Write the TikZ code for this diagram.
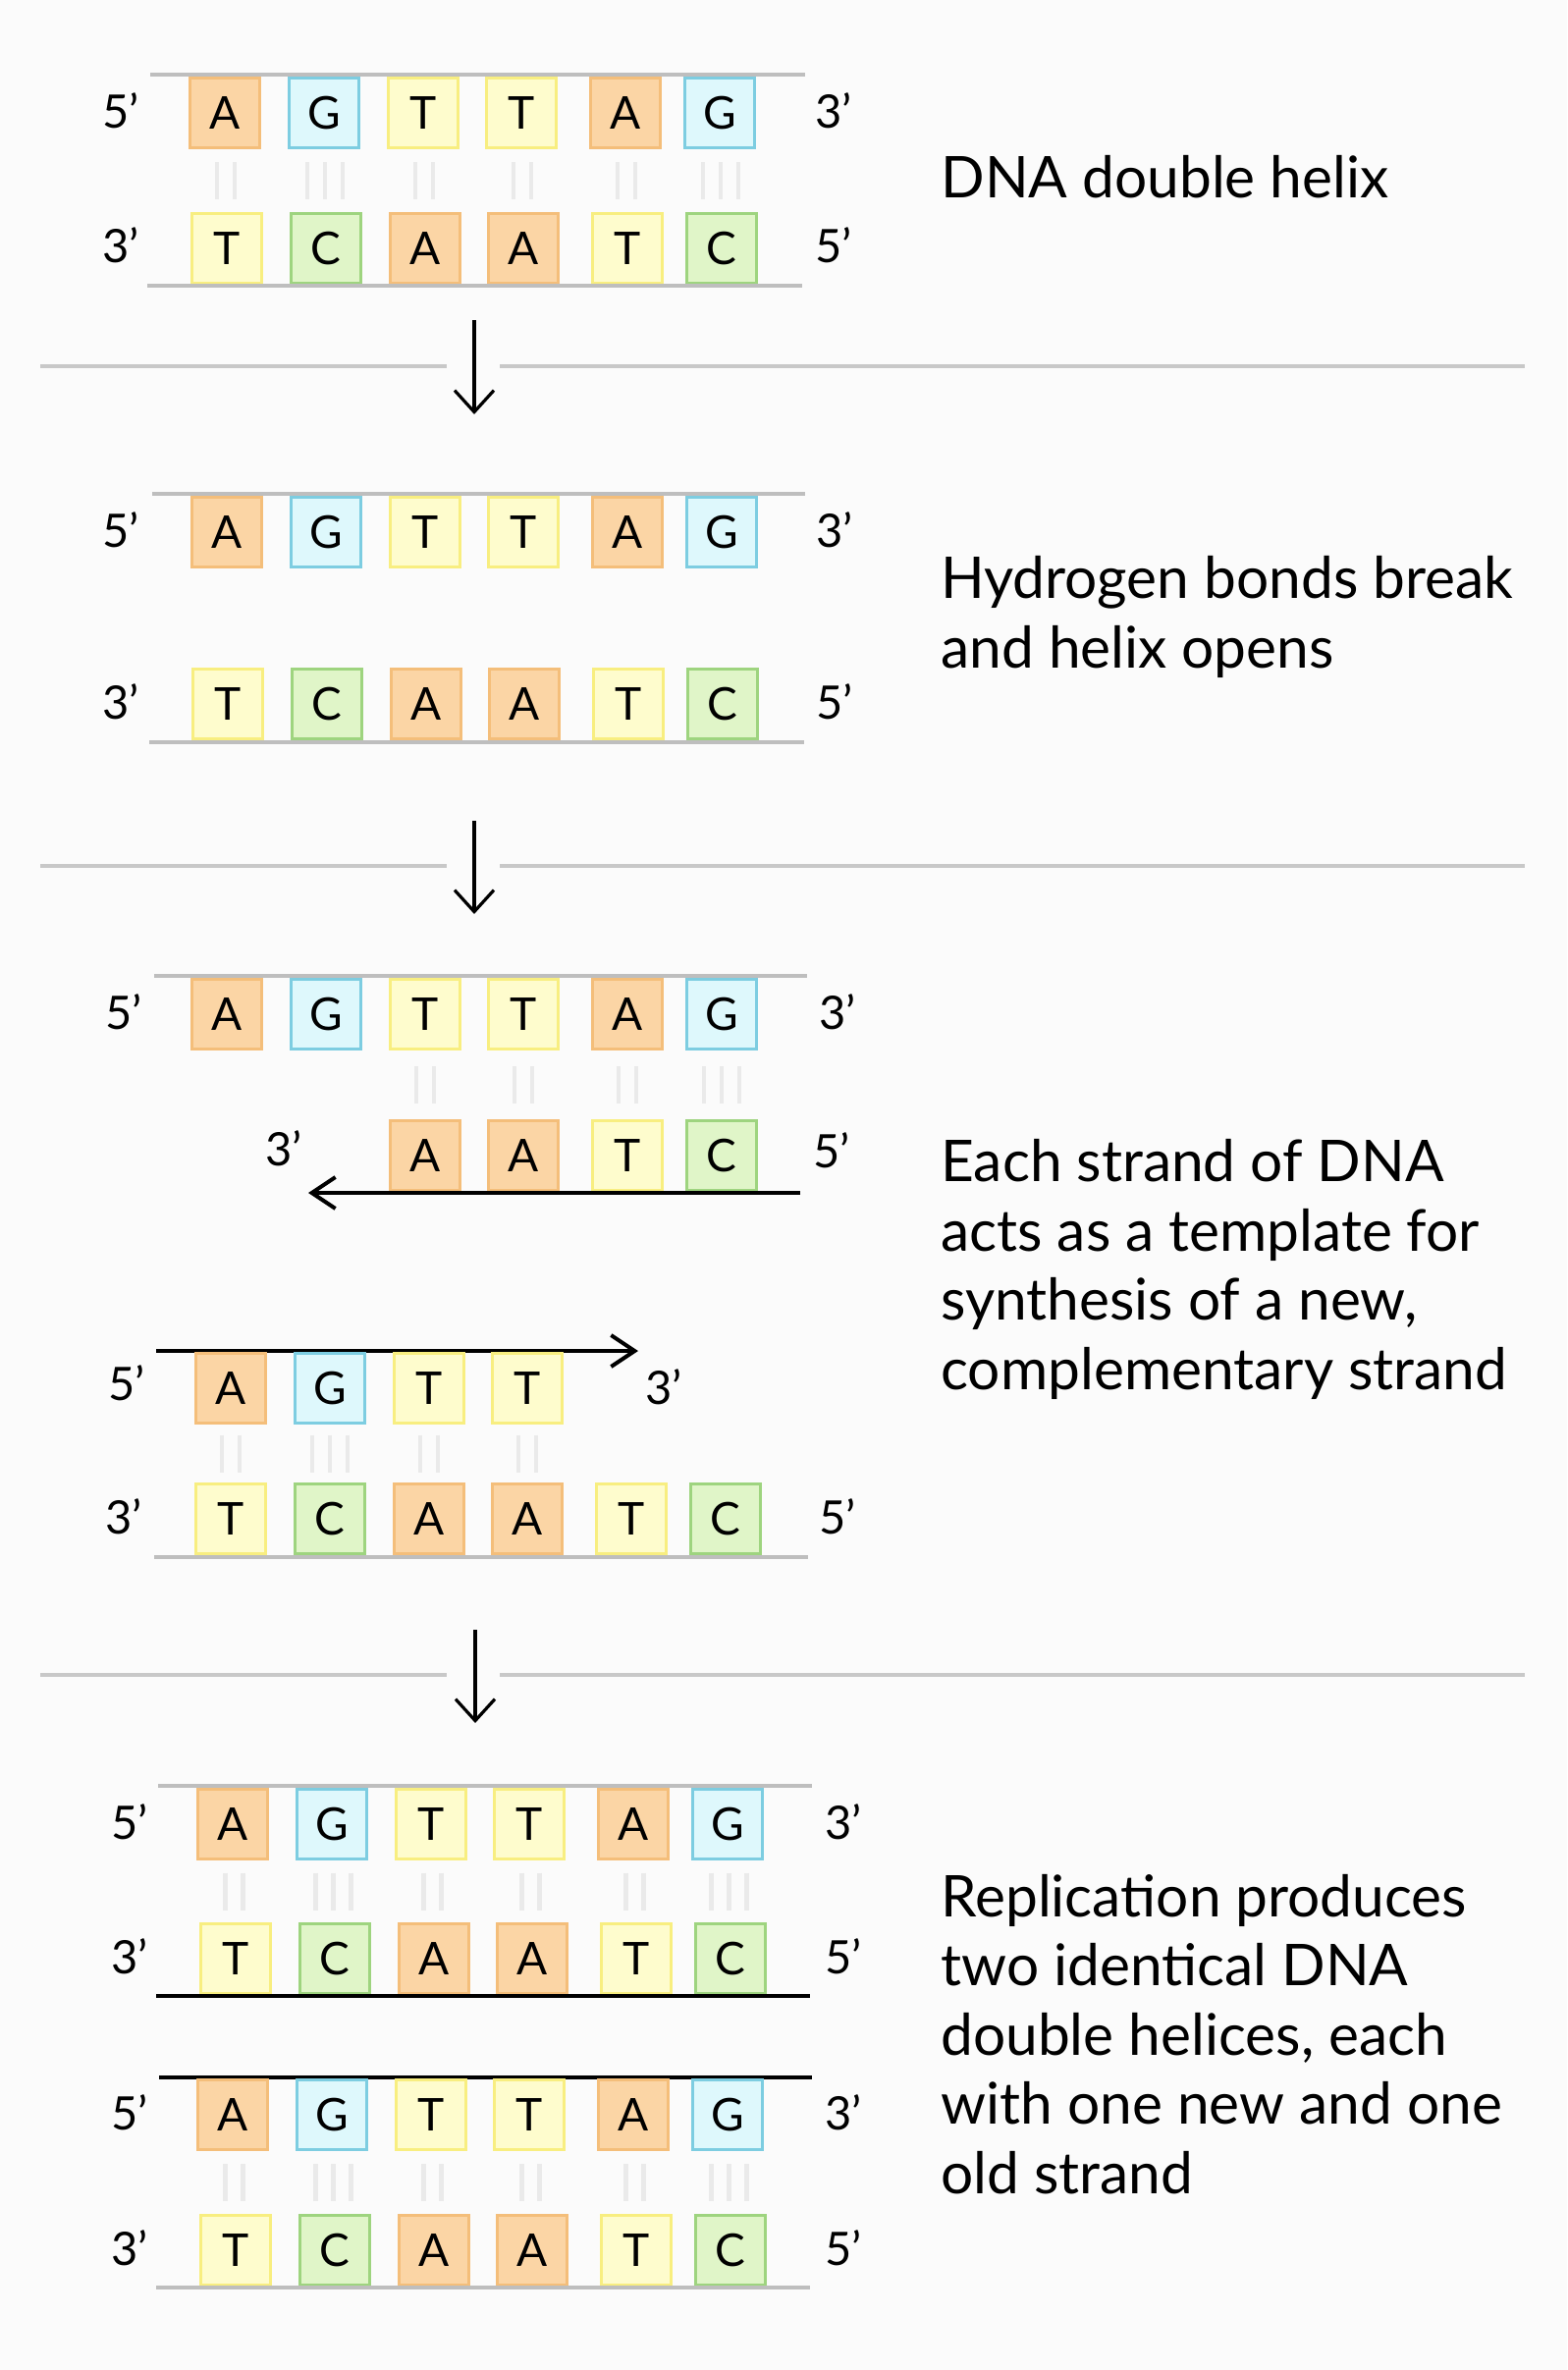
\documentclass[tikz,border=0pt]{standalone}
\usepackage{fontspec}
\setmainfont{Lato}
\usetikzlibrary{arrows.meta,calc}

\definecolor{bgcol}{RGB}{251,251,251}
\definecolor{adeFill}{RGB}{251,213,165}
\definecolor{adeLine}{RGB}{244,190,122}
\definecolor{guaFill}{RGB}{222,248,252}
\definecolor{guaLine}{RGB}{125,205,225}
\definecolor{thyFill}{RGB}{254,252,205}
\definecolor{thyLine}{RGB}{248,238,128}
\definecolor{cytFill}{RGB}{224,245,200}
\definecolor{cytLine}{RGB}{158,212,127}
\definecolor{strandgray}{RGB}{190,190,190}
\definecolor{dividergray}{RGB}{200,200,200}
\definecolor{bondgray}{RGB}{234,234,234}

\tikzset{
  base/.style={draw, line width=1.4pt, minimum size=35.6pt, inner sep=0pt,
    font=\fontsize{23}{23}\selectfont},
  baseA/.style={base, draw=adeLine, fill=adeFill},
  baseG/.style={base, draw=guaLine, fill=guaFill},
  baseT/.style={base, draw=thyLine, fill=thyFill},
  baseC/.style={base, draw=cytLine, fill=cytFill},
  tag/.style={font=\fontsize{23.5}{23.5}\selectfont},
  % placed at the baseline of the last line
  note/.style={anchor=base west, align=left, inner sep=0pt,
    font=\fontsize{29.3}{35.25}\selectfont},
  backbone/.style={strandgray, line width=2pt},
  newstrand/.style={line width=2pt},
  synth/.style={newstrand, -{Straight Barb[length=12pt,width=16pt]}},
  hbond/.style={bondgray, line width=2.2pt},
  divider/.style={dividergray, line width=2pt},
  flow/.style={line width=1.6pt, -{Straight Barb[length=11pt,width=20pt]}},
}

% a row of bases: name, y, x shift, first column, letters
\newcommand\baserow[5]{%
  \foreach \b [count=\i from #4] in {#5}
    \node[base\b] (#1\i) at ({#3+{229,330,431,531,637,733}[\i-1]}, #2) {\b};}

% hydrogen bonds: upper row, lower row, first column, number of bonds
\newcommand\bondset[4]{%
  \foreach \n [count=\i from #3] in {#4} {
    \ifnum\n=2 \def\offs{-9,9}\else\def\offs{-18,0,18}\fi
    \foreach \o in \offs
      \draw[hbond] ($(#1\i.south)!.5!(#2\i.north)+(\o,-19)$) -- ++(0,38);
  }}

\begin{document}
\begin{tikzpicture}[x=0.5pt, y=-0.5pt]
\fill[bgcol] (0,0) rectangle (1596,2414);

% DNA double helix
\draw[backbone] (153,76) -- (820,76);
\baserow{p1a}{115}{0}{1}{A,G,T,T,A,G}
\baserow{p1b}{253}{2}{1}{T,C,A,A,T,C}
\draw[backbone] (150,291) -- (817,291);
\bondset{p1a}{p1b}{1}{2,3,2,2,2,3}
\node[tag] (p1aL) at (123,113) {5’};
\node[tag] (p1aR) at (849,113) {3’};
\node[tag] (p1bL) at (123,250) {3’};
\node[tag] (p1bR) at (849,250) {5’};
\node[note] (txt1) at (958,201) {DNA double helix};

\draw[divider] (41,373) -- (455,373);
\draw[divider] (509,373) -- (1553,373);
\coordinate (a1s) at (483,326);
\coordinate (a1e) at (483,422);
\draw[flow] (a1s) -- (a1e);

% helix opens
\draw[backbone] (155,503) -- (820,503);
\baserow{p2a}{542}{2}{1}{A,G,T,T,A,G}
\baserow{p2b}{717}{3}{1}{T,C,A,A,T,C}
\draw[backbone] (152,756) -- (819,756);
\node[tag] (p2aL) at (123,540) {5’};
\node[tag] (p2aR) at (850,540) {3’};
\node[tag] (p2bL) at (123,715) {3’};
\node[tag] (p2bR) at (850,715) {5’};
\node[note] (txt2) at (958,680) {Hydrogen bonds break\\and helix opens};

\draw[divider] (41,882) -- (455,882);
\draw[divider] (509,882) -- (1553,882);
\coordinate (a2s) at (483,836);
\coordinate (a2e) at (483,931);
\draw[flow] (a2s) -- (a2e);

% templates and new strands
\draw[backbone] (157,994) -- (822,994);
\baserow{p3a}{1033}{2}{1}{A,G,T,T,A,G}
\node[tag] (p3aL) at (126,1031) {5’};
\node[tag] (p3aR) at (853,1031) {3’};
\baserow{p3n}{1177}{2}{3}{A,A,T,C}
\coordinate (p3nE) at (815,1215);
\coordinate (p3nS) at (314,1215);
\draw[synth] (p3nE) -- (p3nS);
\node[tag] (p3nL) at (289,1170) {3’};
\node[tag] (p3nR) at (847,1172) {5’};
\bondset{p3a}{p3n}{3}{2,2,2,3}

\coordinate (p3mS) at (159,1376);
\coordinate (p3mE) at (650,1376);
\draw[synth] (p3mS) -- (p3mE);
\baserow{p3m}{1414}{6}{1}{A,G,T,T}
\node[tag] (p3mL) at (129,1409) {5’};
\node[tag] (p3mR) at (676,1413) {3’};
\baserow{p3b}{1547}{6}{1}{T,C,A,A,T,C}
\draw[backbone] (157,1586) -- (823,1586);
\node[tag] (p3bL) at (126,1545) {3’};
\node[tag] (p3bR) at (853,1545) {5’};
\bondset{p3m}{p3b}{1}{2,3,2,2}
\node[note] (txt3) at (958,1415) {Each strand of DNA\\acts as a template for\\synthesis of a new,\\complementary strand};

\draw[divider] (41,1706) -- (455,1706);
\draw[divider] (509,1706) -- (1553,1706);
\coordinate (a3s) at (484,1660);
\coordinate (a3e) at (484,1755);
\draw[flow] (a3s) -- (a3e);

% two daughter helices
\draw[backbone] (161,1819) -- (827,1819);
\baserow{p4a}{1858}{8}{1}{A,G,T,T,A,G}
\baserow{p4b}{1995}{11}{1}{T,C,A,A,T,C}
\draw[newstrand] (159,2033) -- (825,2033);
\bondset{p4a}{p4b}{1}{2,3,2,2,2,3}
\node[tag] (p4aL) at (132,1856) {5’};
\node[tag] (p4aR) at (859,1856) {3’};
\node[tag] (p4bL) at (132,1993) {3’};
\node[tag] (p4bR) at (859,1993) {5’};

\draw[newstrand] (162,2116) -- (827,2116);
\baserow{p4c}{2154}{8}{1}{A,G,T,T,A,G}
\baserow{p4d}{2292}{11}{1}{T,C,A,A,T,C}
\draw[backbone] (159,2330) -- (825,2330);
\bondset{p4c}{p4d}{1}{2,3,2,2,2,3}
\node[tag] (p4cL) at (132,2152) {5’};
\node[tag] (p4cR) at (859,2152) {3’};
\node[tag] (p4dL) at (132,2290) {3’};
\node[tag] (p4dR) at (859,2290) {5’};
\node[note] (txt4) at (958,2234) {Replication produces\\two identical DNA\\double helices, each\\with one new and one\\old strand};
\end{tikzpicture}
\end{document}
